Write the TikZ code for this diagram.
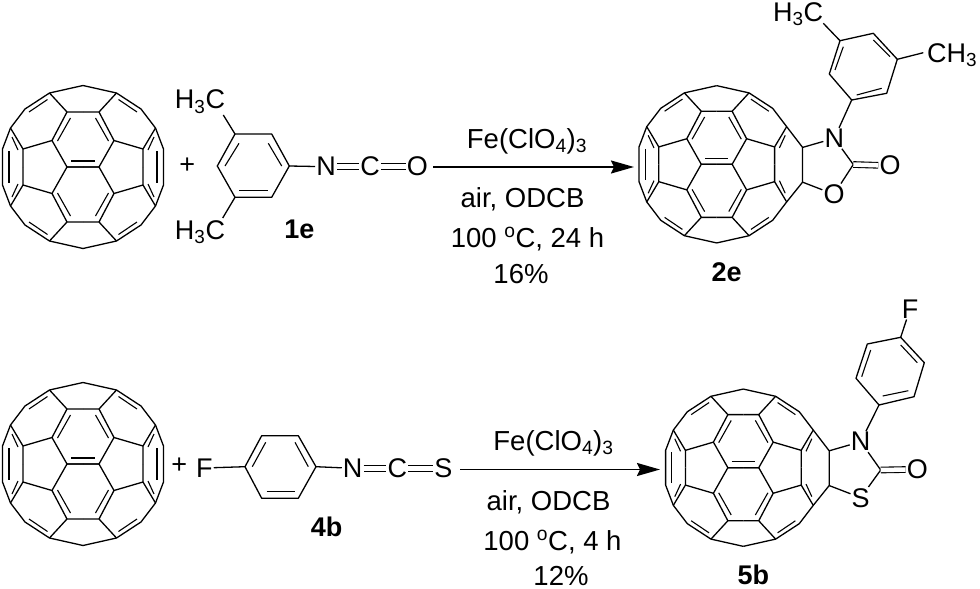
\documentclass[tikz,border=0pt]{standalone}
\usepackage{fontspec}
\setmainfont{Liberation Sans}
\usetikzlibrary{arrows.meta}

\tikzset{
  bond/.style={line width=1.3pt, line join=round},
  inbond/.style={line width=1.1pt},
  twobond/.style={line width=1.1pt, double, double distance=4.5pt},
  rxn/.style={line width=1.8pt, -{Stealth[length=23pt, width=13pt, inset=3pt]}},
  atom/.style={font=\fontsize{27}{30}\selectfont, inner sep=1pt},
  cond/.style={font=\fontsize{27.5}{30}\selectfont, inner sep=0pt, anchor=base},
  cpd/.style={font=\fontsize{27}{30}\selectfont\bfseries, inner sep=0pt},
  ball/.pic={
    \foreach \sx/\sy in {1/1,1/-1,-1/1,-1/-1}{
      \begin{scope}[xscale=\sx, yscale=\sy]
        \draw[bond] (0,-81.5) -- (33.5,-74) -- (58,-58) -- (72.5,-39) -- (60,-18) -- (60,0);
        \draw[bond] (33.5,-74) -- (16,-55) -- (0,-55);
        \draw[bond] (16,-55) -- (31,-26.5) -- (16,0) -- (0,0);
        \draw[bond] (31,-26.5) -- (60,-18);
        \draw[inbond] (35.5,-67.5) -- (54,-55);
        \draw[inbond] (12.5,-49) -- (25.5,-26);
        \draw[inbond] (65,-17) -- (71,-30);
      \end{scope}
    }
    \draw[bond] (-72.5,-39) -- (-80.5,-18) -- (-80.5,18) -- (-72.5,39);
    \draw[inbond] (-74,-16) -- (-74,16);
    \draw[inbond] (-12,-6) -- (12,-6);
    \coordinate (-ne) at (72.5,-39);
    \coordinate (-se) at (72.5,39);
    \coordinate (-dn) at (80.5,-18);
    \coordinate (-ds) at (80.5,18);
    \coordinate (-in) at (74,-16);
    \coordinate (-is) at (74,16);
    \coordinate (-sn) at (89,-17.5);
    \coordinate (-ss) at (89,18.5);
  }
}

\begin{document}
\begin{tikzpicture}[x=1pt, y=-1pt]
\useasboundingbox (0,0) rectangle (980,589);

%fullerenes
\pic (ballA) at (83,167) {ball};
\pic (ballB) at (83,464) {ball};
\pic[scale=.965] (ballC) at (716.7,164.3) {ball};
\pic[scale=.965] (ballD) at (743.3,467.7) {ball};
\draw[bond] (ballA-ne) -- (ballA-dn) -- (ballA-ds) -- (ballA-se);
\draw[inbond] (ballA-in) -- (ballA-is);
\draw[bond] (ballB-ne) -- (ballB-dn) -- (ballB-ds) -- (ballB-se);
\draw[inbond] (ballB-in) -- (ballB-is);
\draw[bond] (ballC-ne) -- (ballC-sn) -- (ballC-ss) -- (ballC-se);
\draw[bond] (ballD-ne) -- (ballD-sn) -- (ballD-ss) -- (ballD-se);

%top reagent 1e
\node[atom] (plusA) at (187.3,166) {+};
\coordinate (a1) at (235,134);
\coordinate (a2) at (271.7,134);
\coordinate (a3) at (289.3,166);
\coordinate (a4) at (271.7,197.3);
\coordinate (a5) at (235,197.3);
\coordinate (a6) at (217.3,166);
\draw[bond] (a1) -- (a2) -- (a3) -- (a4) -- (a5) -- (a6) -- cycle;
\coordinate (ai1) at (239,143.3);
\coordinate (ai2) at (225,166);
\coordinate (ai3) at (268.3,143.3);
\coordinate (ai4) at (281.7,166);
\coordinate (ai5) at (239,190.7);
\coordinate (ai6) at (267.7,190.7);
\draw[inbond] (ai1) -- (ai2);
\draw[inbond] (ai3) -- (ai4);
\draw[inbond] (ai5) -- (ai6);
\node[atom] (meA) at (200,101.7) {H\textsubscript{3}C};
\node[atom] (meB) at (200,232) {H\textsubscript{3}C};
\coordinate (meAc) at (223.3,115);
\coordinate (meBc) at (222.7,218);
\draw[bond] (a1) -- (meAc);
\draw[bond] (a5) -- (meBc);
\node[atom] (nA) at (326,166.7) {N};
\node[atom] (cA) at (370,166.7) {C};
\node[atom] (oA) at (417.3,166.7) {O};
\draw[bond] (a3) -- (nA);
\draw[twobond] (nA) -- (cA);
\draw[twobond] (cA) -- (oA);
\node[cpd] (lab1e) at (299.3,229) {1e};

%top arrow
\coordinate (arrA) at (433,167);
\coordinate (arrB) at (634,167);
\draw[rxn] (arrA) -- (arrB);
\node[cond] (feA) at (527,148) {Fe(ClO\textsubscript{4})\textsubscript{3}};
\node[cond] (airA) at (522.5,207) {air, ODCB};
\node[cond] (tempA) at (527.5,247) {100 \textsuperscript{o}C, 24 h};
\node[cond] (yldA) at (521,283) {16\%};

%product 2e
\node[atom] (nC) at (834.3,138.3) {N};
\node[atom] (oC) at (834,194.3) {O};
\node[atom] (oCb) at (890,165.7) {O};
\coordinate (cC) at (853.3,164.5);
\draw[bond] (ballC-sn) -- (nC);
\draw[bond] (ballC-ss) -- (oC);
\draw[bond] (nC) -- (cC);
\draw[bond] (oC) -- (cC);
\draw[twobond] (cC) -- (oCb);
\coordinate (c1) at (851.7,100);
\coordinate (c2) at (886.7,93.3);
\coordinate (c3) at (897.3,59.3);
\coordinate (c4) at (873.3,33.3);
\coordinate (c5) at (840,40.7);
\coordinate (c6) at (829.3,74);
\draw[bond] (c1) -- (c2) -- (c3) -- (c4) -- (c5) -- (c6) -- cycle;
\draw[bond] (nC) -- (c1);
\coordinate (ci1) at (843.3,46.7);
\coordinate (ci2) at (835,70);
\coordinate (ci3) at (873.3,40);
\coordinate (ci4) at (890,56.7);
\coordinate (ci5) at (856.7,95);
\coordinate (ci6) at (881.7,88.3);
\draw[inbond] (ci1) -- (ci2);
\draw[inbond] (ci3) -- (ci4);
\draw[inbond] (ci5) -- (ci6);
\node[atom] (meC) at (798,14) {H\textsubscript{3}C};
\node[atom] (meD) at (952,55) {CH\textsubscript{3}};
\coordinate (meCc) at (823.3,23.3);
\coordinate (meDc) at (923.3,52.7);
\draw[bond] (c5) -- (meCc);
\draw[bond] (c3) -- (meDc);
\node[cpd] (lab2e) at (726.7,272) {2e};

%bottom reagent 4b
\node[atom] (plusB) at (179.3,466) {+};
\node[atom] (fB) at (204.3,468) {F};
\coordinate (b1) at (245,466.7);
\coordinate (b2) at (261.7,435.7);
\coordinate (b3) at (298.3,435.7);
\coordinate (b4) at (316,466.7);
\coordinate (b5) at (298.3,498.3);
\coordinate (b6) at (261.7,498.3);
\draw[bond] (b1) -- (b2) -- (b3) -- (b4) -- (b5) -- (b6) -- cycle;
\coordinate (bi1) at (265.7,442.3);
\coordinate (bi2) at (252.3,466.7);
\coordinate (bi3) at (295,442.3);
\coordinate (bi4) at (308.3,466.7);
\coordinate (bi5) at (266.7,491.7);
\coordinate (bi6) at (295,491.7);
\draw[inbond] (bi1) -- (bi2);
\draw[inbond] (bi3) -- (bi4);
\draw[inbond] (bi5) -- (bi6);
\node[atom] (nB) at (352.7,468.3) {N};
\node[atom] (cB) at (397.3,468.3) {C};
\node[atom] (sB) at (443.3,468.3) {S};
\draw[bond] (fB) -- (b1);
\draw[bond] (b4) -- (nB);
\draw[twobond] (nB) -- (cB);
\draw[twobond] (cB) -- (sB);
\node[cpd] (lab4b) at (326.7,526.7) {4b};

%bottom arrow
\coordinate (arrC) at (460,469.5);
\coordinate (arrD) at (660,469.5);
\draw[rxn] (arrC) -- (arrD);
\node[cond] (feB) at (553.5,450) {Fe(ClO\textsubscript{4})\textsubscript{3}};
\node[cond] (airB) at (548.5,510) {air, ODCB};
\node[cond] (tempB) at (552.5,550) {100 \textsuperscript{o}C, 4 h};
\node[cond] (yldB) at (561,585) {12\%};

%product 5b
\node[atom] (nD) at (860.7,441.7) {N};
\node[atom] (sD) at (860.7,497.7) {S};
\node[atom] (oD) at (917.3,469.3) {O};
\coordinate (cD) at (880.7,470);
\draw[bond] (ballD-sn) -- (nD);
\draw[bond] (ballD-ss) -- (sD);
\draw[bond] (nD) -- (cD);
\draw[bond] (sD) -- (cD);
\draw[twobond] (cD) -- (oD);
\coordinate (d1) at (879,405);
\coordinate (d2) at (914,396.7);
\coordinate (d3) at (924.3,362.7);
\coordinate (d4) at (900.7,337.3);
\coordinate (d5) at (867.3,344);
\coordinate (d6) at (856,378.3);
\draw[bond] (d1) -- (d2) -- (d3) -- (d4) -- (d5) -- (d6) -- cycle;
\draw[bond] (nD) -- (d1);
\coordinate (di1) at (870.7,350);
\coordinate (di2) at (861.7,376.7);
\coordinate (di3) at (900.7,345);
\coordinate (di4) at (917.3,362.7);
\coordinate (di5) at (882.7,396);
\coordinate (di6) at (908.3,390.7);
\draw[inbond] (di1) -- (di2);
\draw[inbond] (di3) -- (di4);
\draw[inbond] (di5) -- (di6);
\node[atom] (fD) at (910,309) {F};
\draw[bond] (d4) -- (fD);
\node[cpd] (lab5b) at (753.3,575) {5b};

\end{tikzpicture}
\end{document}
